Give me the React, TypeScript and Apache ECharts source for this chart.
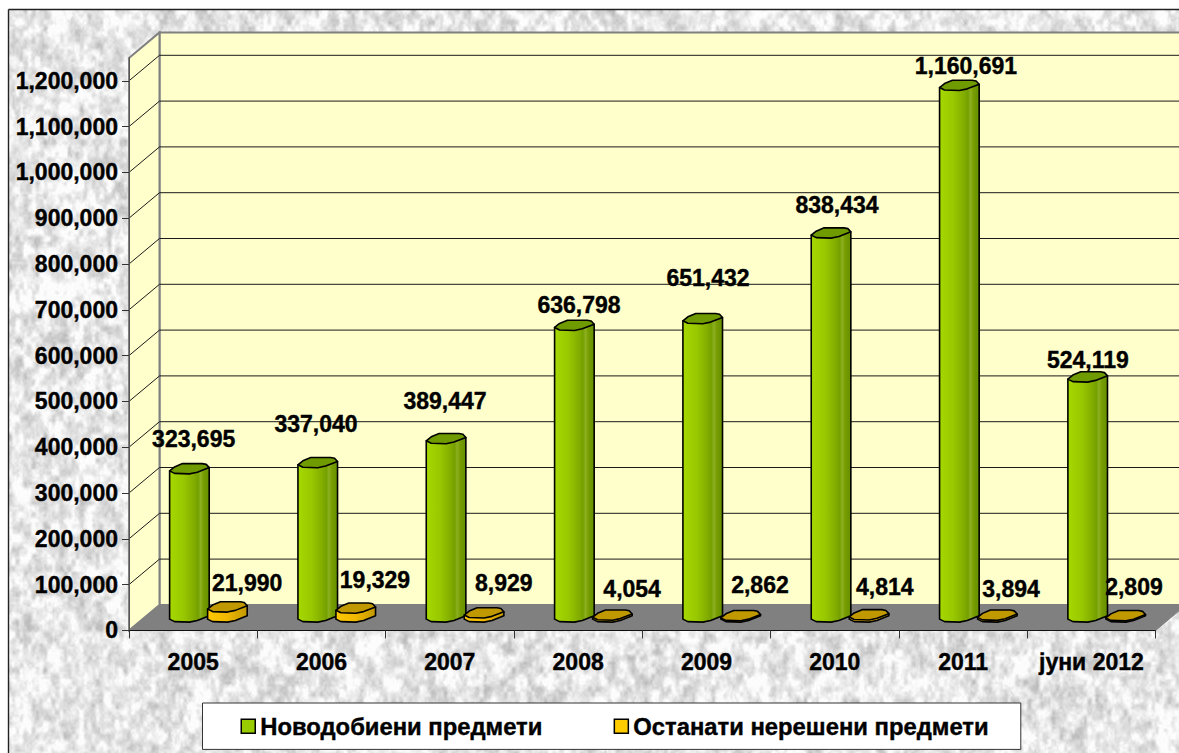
import React, { useEffect, useRef } from "react";
import * as echarts from "echarts";

const categories = ["2005", "2006", "2007", "2008", "2009", "2010", "2011", "јуни 2012"];
const newCases = [323695, 337040, 389447, 636798, 651432, 838434, 1160691, 524119];
const unresolved = [21990, 19329, 8929, 4054, 2862, 4814, 3894, 2809];
const yTicks = [0, 100000, 200000, 300000, 400000, 500000, 600000, 700000, 800000, 900000, 1000000, 1100000, 1200000];
const newNames = "Новодобиени предмети";
const oldNames = "Останати нерешени предмети";

const newLabelDx = [0.5, -5.5, -4.8, 0.8, 1.5, 2.2, 2.8, -3.5];
const newLabelDy = [-43, -52, -51, -34, -54, -41, -33, -30];
const oldLabelDx = [54, 53.5, 54, 54, 53.5, 50, 48, 42.5];
const oldLabelDy = [-37, -41.5, -43, -39.5, -44, -41, -39.6, -42];

const FONT = "'Liberation Sans', Arial, sans-serif";
const DX = 30.5;
const DY = 25.5;
const BAR_OFFSET = 19;
const HW = 19.8;
const HEAVY = { textBorderColor: "#000", textBorderWidth: 0.4 };

// Lumpy low-res ellipse of the original chart's cylinder caps, relative to the cap centre.
const capFront: number[][] = [[-1, 1.5], [-0.75, 4], [0, 4.5], [0.4, 2.8], [1, -1.8]];
const capBack: number[][] = [[0.85, -5], [0.65, -5.8], [-0.35, -5.8], [-0.75, -2.5]];

function hash(x: number, y: number) {
  let h = Math.imul(x, 374761393) + Math.imul(y, 668265263);
  h = Math.imul(h ^ (h >>> 13), 1274126177);
  return ((h ^ (h >>> 16)) >>> 0) / 4294967295;
}
function noise(x: number, y: number, sx: number, sy: number, seed: number) {
  const fx = x / sx;
  const fy = y / sy;
  const ix = Math.floor(fx);
  const iy = Math.floor(fy);
  let tx = fx - ix;
  let ty = fy - iy;
  tx = tx * tx * (3 - 2 * tx);
  ty = ty * ty * (3 - 2 * ty);
  const a = hash(ix + seed, iy);
  const b = hash(ix + 1 + seed, iy);
  const c = hash(ix + seed, iy + 1);
  const d = hash(ix + 1 + seed, iy + 1);
  return a + (b - a) * tx + (c - a) * ty + (a - b - c + d) * tx * ty;
}
function makeTexture(w: number, h: number) {
  const canvas = document.createElement("canvas");
  canvas.width = w;
  canvas.height = h;
  const ctx = canvas.getContext("2d")!;
  const img = ctx.createImageData(w, h);
  for (let y = 0; y < h; y++) {
    for (let x = 0; x < w; x++) {
      const n =
        0.12 * noise(x, y, 30, 36, 11) +
        0.38 * noise(x, y, 9, 11, 503) +
        0.35 * noise(x, y, 4, 6, 1201) +
        0.15 * noise(x, y, 2, 2.5, 3307);
      const g = Math.max(190, Math.min(252, 231 + (n - 0.5) * 125));
      const i = (y * w + x) * 4;
      img.data[i] = g;
      img.data[i + 1] = g;
      img.data[i + 2] = g;
      img.data[i + 3] = 255;
    }
  }
  ctx.putImageData(img, 0, 0);
  return canvas.toDataURL("image/jpeg", 0.85);
}

function sceneRender(params: any, api: any) {
  const c = params.coordSys;
  const x0 = c.x;
  const x1 = c.x + c.width;
  const yTop = c.y;
  const yZero = c.y + c.height;
  const wallStyle = { fill: "#FFFFCC", stroke: "#808080", lineWidth: 2 };
  const children: any[] = [
    { type: "polygon", shape: { points: [[x0 + DX, yTop - DY], [x1 + DX, yTop - DY], [x1 + DX, yZero - DY], [x0 + DX, yZero - DY]] }, style: wallStyle },
    { type: "polygon", shape: { points: [[x0, yTop], [x0 + DX, yTop - DY], [x0 + DX, yZero - DY], [x0, yZero]] }, style: wallStyle },
  ];
  yTicks.slice(1).forEach((t) => {
    const y = api.coord([0, t])[1];
    children.push({ type: "polyline", shape: { points: [[x0, y], [x0 + DX, y - DY], [x1 + DX, y - DY]] }, style: { fill: "none", stroke: "#1a1a1a", lineWidth: 1 } });
  });
  children.push({ type: "polygon", shape: { points: [[x0, yZero], [x0 + DX, yZero - DY], [x1 + DX, yZero - DY], [x1, yZero]] }, style: { fill: "#808080", stroke: "#808080", lineWidth: 1 } });
  return { type: "group", children };
}

function cylinderRender(side: number, stops: any[], capColor: string) {
  return (_params: any, api: any) => {
    const p = api.coord([api.value(0), api.value(1)]);
    const base = api.coord([api.value(0), 0]);
    const cx = p[0] + DX / 2 + side * BAR_OFFSET;
    const top = p[1] - DY / 2;
    const bottom = base[1] - DY / 2;
    const front = capFront.map(([a, b]) => [cx + a * HW, bottom + b]);
    const bodyPts = [[cx - HW, top + capFront[0][1]], ...front, [cx + HW, top + capFront[4][1]]];
    const capPts = [...capFront, ...capBack].map(([a, b]) => [cx + a * HW, top + b]);
    const line = { stroke: "#000", lineWidth: 1.6, lineJoin: "round" };
    return {
      type: "group",
      children: [
        { type: "polygon", shape: { points: bodyPts }, style: { fill: new echarts.graphic.LinearGradient(0, 0, 1, 0, stops), ...line } },
        { type: "polygon", shape: { points: capPts }, style: { fill: capColor, ...line } },
      ],
    };
  };
}

function labelRender(dx: number[], dy: number[]) {
  return (params: any, api: any) => {
    const i = params.dataIndex;
    const v = api.value(1);
    const p = api.coord([i, v]);
    return {
      type: "text",
      x: p[0] + dx[i],
      y: p[1] + dy[i],
      style: { text: v.toLocaleString("en-US"), fill: "#000", font: `bold 23px ${FONT}`, align: "center", verticalAlign: "middle", stroke: "#000", lineWidth: 0.4 },
    };
  };
}

const greenStops = [
  { offset: 0, color: "#A6D800" },
  { offset: 0.35, color: "#98C800" },
  { offset: 0.6, color: "#84AE00" },
  { offset: 0.72, color: "#74A000" },
  { offset: 0.78, color: "#8CB020" },
  { offset: 0.86, color: "#769C00" },
  { offset: 1, color: "#669000" },
];
const goldStops = [
  { offset: 0, color: "#FFC800" },
  { offset: 0.5, color: "#F0B800" },
  { offset: 1, color: "#C09800" },
];

export default function App() {
  const ref = useRef<HTMLDivElement>(null);
  useEffect(() => {
    const chart = echarts.init(ref.current!, undefined, { renderer: "svg" });
    const seriesData = (vals: number[]) => vals.map((v, i) => [i, v]);
    chart.setOption({
      animation: false,
      backgroundColor: "#fff",
      grid: { left: 129, right: 23.4, top: 57.9, bottom: 122.6, containLabel: false },
      graphic: {
        elements: [
          { type: "image", z: -10, x: 9, y: 10, style: { image: makeTexture(1170, 743), x: 0, y: 0, width: 1170, height: 743 } },
          { type: "line", z: -9, shape: { x1: 8.5, y1: 9.5, x2: 1179, y2: 9.5 }, style: { stroke: "#222", lineWidth: 1.4 } },
          { type: "line", z: -9, shape: { x1: 8.5, y1: 9.5, x2: 8.5, y2: 753 }, style: { stroke: "#222", lineWidth: 1.4 } },
        ],
      },
      legend: {
        left: 202.5,
        top: 703,
        orient: "horizontal",
        backgroundColor: "#fff",
        borderColor: "#333",
        borderWidth: 1,
        padding: [11, 32, 11, 38],
        itemGap: 71,
        itemWidth: 14,
        itemHeight: 14,
        selectedMode: false,
        textStyle: { fontFamily: FONT, fontWeight: "bold", fontSize: 23.8, color: "#000", ...HEAVY },
        data: [
          { name: newNames, icon: "rect", itemStyle: { color: "#99CC00", borderColor: "#000", borderWidth: 1.5 } },
          { name: oldNames, icon: "rect", itemStyle: { color: "#FFCC00", borderColor: "#000", borderWidth: 1.5 } },
        ],
      },
      xAxis: {
        type: "category",
        data: categories,
        boundaryGap: true,
        axisLine: { show: true, lineStyle: { color: "#111", width: 1 } },
        axisTick: { show: true, length: 8, lineStyle: { color: "#333", width: 1 } },
        axisLabel: { margin: 20, color: "#000", fontFamily: FONT, fontWeight: "bold", fontSize: 23, interval: 0, ...HEAVY },
        splitLine: { show: false },
        z: 4,
      },
      yAxis: {
        type: "value",
        min: 0,
        max: 1250000,
        interval: 100000,
        axisLine: { show: true, lineStyle: { color: "#555", width: 1 } },
        axisTick: { show: true, length: 7, customValues: yTicks, lineStyle: { color: "#333", width: 1 } },
        axisLabel: {
          margin: 11,
          customValues: yTicks,
          color: "#000",
          fontFamily: FONT,
          fontWeight: "bold",
          fontSize: 23,
          ...HEAVY,
          formatter: (v: number) => v.toLocaleString("en-US"),
        },
        splitLine: { show: false },
        z: 4,
      },
      series: [
        { type: "custom", name: "scene", z: 1, silent: true, data: [[0, 0]], renderItem: sceneRender, encode: { x: 0, y: 1 } },
        { type: "custom", name: newNames, z: 2, silent: true, itemStyle: { color: "#99CC00" }, data: seriesData(newCases), renderItem: cylinderRender(-1, greenStops, "#6F9A00"), encode: { x: 0, y: 1 } },
        { type: "custom", name: oldNames, z: 2, silent: true, itemStyle: { color: "#FFCC00" }, data: seriesData(unresolved), renderItem: cylinderRender(1, goldStops, "#C09800"), encode: { x: 0, y: 1 } },
        { type: "custom", name: "newLabels", z: 3, silent: true, data: seriesData(newCases), renderItem: labelRender(newLabelDx, newLabelDy), encode: { x: 0, y: 1 } },
        { type: "custom", name: "oldLabels", z: 3, silent: true, data: seriesData(unresolved), renderItem: labelRender(oldLabelDx, oldLabelDy), encode: { x: 0, y: 1 } },
      ],
    });
    return () => chart.dispose();
  }, []);
  return <div ref={ref} style={{ position: "fixed", left: 0, top: 0, width: 1179, height: 753, overflow: "hidden" }} />;
}
